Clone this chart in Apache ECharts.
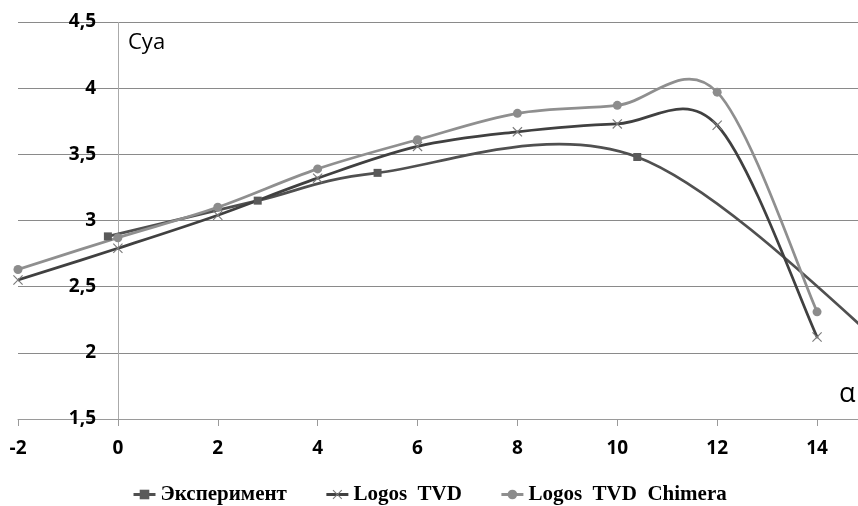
<!DOCTYPE html>
<html><head><meta charset="utf-8">
<script src="https://cdn.jsdelivr.net/npm/echarts@6/dist/echarts.min.js"></script>
<style>html,body{margin:0;padding:0;background:#fff}#c{width:858px;height:506px}</style>
</head><body><div id="c"></div>
<script>
// ---- data ----
const seriesNames = ['Эксперимент', 'Logos  TVD', 'Logos  TVD  Chimera'];
const expX = [-0.2, 2.8, 5.2, 10.4, 16];
const expY = [2.88, 3.15, 3.36, 3.48, 1.83];
const tvdX = [-2, 0, 2, 4, 6, 8, 10, 12, 14];
const tvdY = [2.55, 2.79, 3.04, 3.32, 3.56, 3.67, 3.73, 3.72, 2.12];
const chiX = [-2, 0, 2, 4, 6, 8, 10, 12, 14];
const chiY = [2.63, 2.87, 3.10, 3.39, 3.61, 3.81, 3.87, 3.97, 2.31];
const xTicks = [-2, 0, 2, 4, 6, 8, 10, 12, 14];
const yTicks = [1.5, 2, 2.5, 3, 3.5, 4, 4.5];
const yAxisCrossX = 0;
const yAxisTitle = 'Cya';
const xAxisTitle = 'α';

// ---- styling ----
const colors = ['#505050', '#404040', '#8f8f8f'];
const markerColors = ['#5a5a5a', '#7a7a7a', '#8c8c8c'];
const crossPath = 'path://M0,0.8L0.8,0L5,4.2L9.2,0L10,0.8L5.8,5L10,9.2L9.2,10L5,5.8L0.8,10L0,9.2L4.2,5Z';

function curveSeries(name, xs, ys, color, width, z) {
  return {
    type: 'custom', name: name + ' curve', z: z, silent: true,
    coordinateSystem: 'cartesian2d',
    data: [[xs[0], ys[0]]],
    encode: { x: 0, y: 1 },
    renderItem: function (params, api) {
      const p = xs.map((x, i) => api.coord([x, ys[i]]));
      let d = 'M' + p[0][0] + ',' + p[0][1];
      for (let i = 0; i < p.length - 1; i++) {
        const p0 = p[i - 1] || p[i], p1 = p[i], p2 = p[i + 1], p3 = p[i + 2] || p[i + 1];
        const c1 = [p1[0] + (p2[0] - p0[0]) / 6, p1[1] + (p2[1] - p0[1]) / 6];
        const c2 = [p2[0] - (p3[0] - p1[0]) / 6, p2[1] - (p3[1] - p1[1]) / 6];
        d += 'C' + c1[0] + ',' + c1[1] + ',' + c2[0] + ',' + c2[1] + ',' + p2[0] + ',' + p2[1];
      }
      const cs = params.coordSys;
      return {
        type: 'path',
        shape: { pathData: d },
        style: { fill: 'none', stroke: color, lineWidth: width, lineJoin: 'round', lineCap: 'round' },
        clipPath: { type: 'rect', shape: { x: cs.x, y: cs.y - 2, width: cs.width, height: cs.height + 4 } }
      };
    }
  };
}
function markerSeries(name, xs, ys, symbol, size, color, z) {
  return {
    type: 'line', name: name, z: z,
    data: xs.map((x, i) => [x, ys[i]]),
    symbol: symbol, symbolSize: size, showSymbol: true, clip: true,
    lineStyle: { width: 0 },
    itemStyle: { color: color },
    emphasis: { disabled: true }
  };
}

const series = [
  markerSeries(seriesNames[0], expX, expY, 'rect', 8, markerColors[0], 5),
  markerSeries(seriesNames[1], tvdX, tvdY, crossPath, 10, markerColors[1], 5),
  markerSeries(seriesNames[2], chiX, chiY, 'circle', 9, markerColors[2], 5),
  curveSeries(seriesNames[0], expX, expY, colors[0], 2.75, 3),
  curveSeries(seriesNames[1], tvdX, tvdY, colors[1], 2.75, 3),
  curveSeries(seriesNames[2], chiX, chiY, colors[2], 2.75, 3)
];
// vertical axis line drawn where x = 0
series[0].markLine = {
  silent: true, symbol: ['none', 'none'], label: { show: false }, z: 1,
  lineStyle: { color: '#aaaaaa', width: 1, type: 'solid' },
  data: [{ xAxis: yAxisCrossX }]
};

const chart = echarts.init(document.getElementById('c'), null, { renderer: 'canvas' });
chart.setOption({
  animation: false,
  backgroundColor: '#ffffff',
  grid: { left: 18, right: 0, top: 22, bottom: 87, containLabel: false, outerBoundsMode: 'none' },
  xAxis: {
    type: 'value', min: -2, max: 14.82, interval: 2,
    axisLine: { onZero: false, lineStyle: { color: '#9a9a9a', width: 1 } },
    axisTick: { show: true, length: 7, inside: false, customValues: xTicks, lineStyle: { color: '#9a9a9a' } },
    axisLabel: { customValues: xTicks, margin: 20, color: '#000', fontFamily: 'Open Sans', fontWeight: 'bold', fontSize: 19 },
    splitLine: { show: false }
  },
  yAxis: {
    type: 'value', min: 1.5, max: 4.5, interval: 0.5,
    axisLine: { show: false, onZero: false },
    axisTick: { show: false },
    axisLabel: {
      customValues: yTicks, margin: -78, color: '#000', fontFamily: 'Open Sans', fontWeight: 'bold', fontSize: 19,
      align: 'right',
      formatter: v => String(v).replace('.', ',')
    },
    splitLine: { show: true, lineStyle: { color: '#8a8a8a', width: 1 } }
  },
  legend: {
    left: 127, top: 479, itemWidth: 22, itemHeight: 12, itemGap: 38,
    textStyle: { fontFamily: 'Liberation Serif', fontWeight: 'bold', fontSize: 21, color: '#000' },
    data: seriesNames.map((n, i) => ({ name: n, lineStyle: { width: 3, color: colors[i], opacity: 1 } })),
    selectedMode: false
  },
  graphic: [
    { type: 'text', left: 128, top: 32, style: { text: yAxisTitle, font: '22px "Open Sans"', fill: '#000' } },
    { type: 'text', left: 839, top: 381, style: { text: xAxisTitle, font: '27px "Open Sans"', fill: '#000' } }
  ],
  series: series
});
</script>
</body></html>
